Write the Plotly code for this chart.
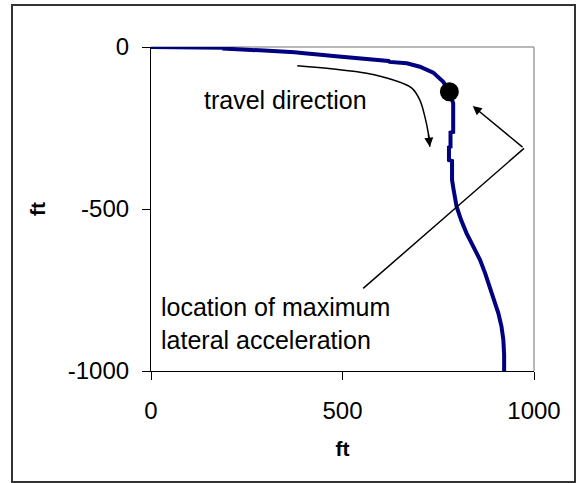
import plotly.graph_objects as go

# Vehicle path (ft): lateral position vs. longitudinal position
path_x = [0, 60, 120, 189, 190, 250, 293, 296, 330, 372, 375, 400, 433, 436, 476,
          520, 523, 572, 620, 623, 668, 702, 737, 763, 779, 789, 789, 782, 782,
          778, 778, 786, 786, 790, 794, 798, 810, 824, 842, 859, 873, 885, 897,
          907, 915, 920, 922, 922]
path_y = [0, 0, -1, -2, -5, -7, -9, -11, -13, -14, -16, -19, -21, -23, -28,
          -32, -35, -39, -43, -46, -50, -61, -79, -107, -138, -174, -262, -264,
          -308, -310, -349, -352, -410, -440, -462, -493, -535, -575, -617, -657,
          -700, -740, -780, -822, -862, -904, -950, -1000]

# Point of maximum lateral acceleration
peak_x = [779]
peak_y = [-138]

# Curved "travel direction" arrow
travel_x = [382, 476, 563, 633, 681, 702, 715, 724, 728]
travel_y = [-58, -68, -81, -102, -127, -164, -215, -266, -308]

# Callout leader lines
callout_vertex = (974, -313)
callout_tip = (840, -182)
callout_end = (554, -745)

x_ticks = [0, 500, 1000]
y_ticks = [0, -500, -1000]

FONT = "Liberation Sans, Arial, sans-serif"
W, H = 578, 483
PL, PR, PT, PB = 151, 534, 47, 371  # plot area in pixels


def px_to_paper(px, py):
    return (px - PL) / (PR - PL), (PB - py) / (PB - PT)


fig = go.Figure()

fig.add_trace(go.Scatter(
    x=travel_x, y=travel_y, mode="lines",
    line=dict(color="black", width=1.5, shape="spline"),
    hoverinfo="skip", showlegend=False,
))

fig.add_trace(go.Scatter(
    x=path_x, y=path_y, mode="lines",
    line=dict(color="#000080", width=4),
    showlegend=False,
))

fig.add_trace(go.Scatter(
    x=peak_x, y=peak_y, mode="markers",
    marker=dict(color="black", size=19),
    showlegend=False,
))

# arrowhead at the end of the travel arrow
fig.add_annotation(
    x=travel_x[-1], y=travel_y[-1], ax=travel_x[-2], ay=travel_y[-2],
    xref="x", yref="y", axref="x", ayref="y",
    showarrow=True, arrowhead=2, arrowsize=1.2, arrowwidth=1.5,
    arrowcolor="black", text="",
)

# callout pointing at the dot
fig.add_annotation(
    x=callout_tip[0], y=callout_tip[1], ax=callout_vertex[0], ay=callout_vertex[1],
    xref="x", yref="y", axref="x", ayref="y",
    showarrow=True, arrowhead=2, arrowsize=1.2, arrowwidth=1.5,
    arrowcolor="black", text="",
)
fig.add_shape(
    type="line", xref="x", yref="y",
    x0=callout_vertex[0], y0=callout_vertex[1],
    x1=callout_end[0], y1=callout_end[1],
    line=dict(color="black", width=1.5),
)

fig.add_annotation(
    x=132, y=-164, xref="x", yref="y", text="travel direction",
    showarrow=False, xanchor="left", yanchor="middle",
    font=dict(family=FONT, size=25, color="black"),
)
fig.add_annotation(
    x=22, y=-852, xref="x", yref="y",
    text="location of maximum<br>lateral acceleration",
    showarrow=False, xanchor="left", yanchor="middle", align="left",
    font=dict(family=FONT, size=25, color="black"),
)

# gray plot-area border on top and right
fig.add_shape(type="line", xref="paper", yref="paper", x0=0, y0=1, x1=1, y1=1,
              line=dict(color="#a0a0a0", width=1.5), layer="below")
fig.add_shape(type="line", xref="paper", yref="paper", x0=1, y0=0, x1=1, y1=1,
              line=dict(color="#a0a0a0", width=1.5), layer="below")

# outer chart frame
fx0, fy0 = px_to_paper(12, 482)
fx1, fy1 = px_to_paper(575, 5)
fig.add_shape(type="rect", xref="paper", yref="paper",
              x0=fx0, y0=fy0, x1=fx1, y1=fy1,
              line=dict(color="#333333", width=2))

axis_common = dict(
    showgrid=False, zeroline=False,
    showline=True, linecolor="black", linewidth=1.2,
    ticks="outside", ticklen=8, tickcolor="black", tickwidth=1.2,
    tickfont=dict(family=FONT, size=24, color="black"),
)

fig.update_xaxes(
    range=[0, 1000], tickvals=x_ticks, ticktext=[str(v) for v in x_ticks],
    ticklabelstandoff=10,
    title=dict(text="<b>ft</b>", font=dict(family=FONT, size=21, color="black"),
               standoff=18),
    **axis_common,
)
fig.update_yaxes(
    range=[-1000, 0], tickvals=y_ticks, ticktext=[str(v) for v in y_ticks],
    ticklabelstandoff=8,
    title=dict(text="<b>ft</b>", font=dict(family=FONT, size=21, color="black"),
               standoff=16),
    **axis_common,
)

fig.update_layout(
    width=W, height=H,
    margin=dict(l=PL, r=W - PR, t=PT, b=H - PB),
    paper_bgcolor="white", plot_bgcolor="white",
    showlegend=False,
)

fig.write_html("out.html")
